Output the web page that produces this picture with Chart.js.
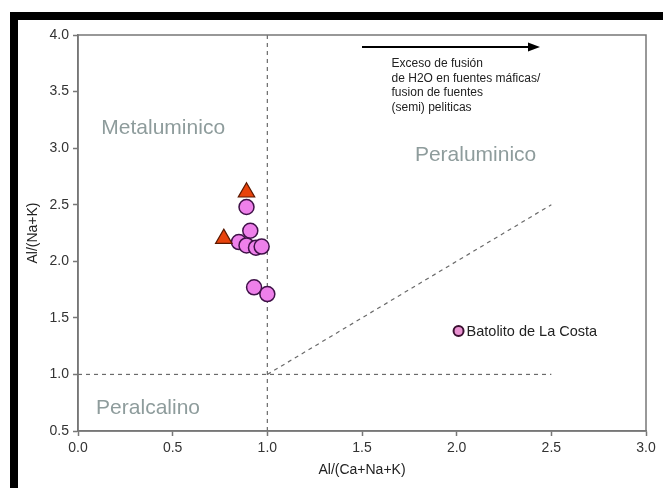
<!DOCTYPE html>
<html>
<head>
<meta charset="utf-8">
<script src="https://cdn.jsdelivr.net/npm/chart.js@4.4.0/dist/chart.umd.min.js"></script>
<style>
  html, body { margin: 0; padding: 0; background: #fff; }
  canvas { display: block; }
</style>
</head>
<body>
<canvas id="chart" width="663" height="488"></canvas>
<script>
  // ejes
  const xTickValues = [0, 0.5, 1, 1.5, 2, 2.5, 3];
  const yTickValues = [0.5, 1, 1.5, 2, 2.5, 3, 3.5, 4];

  // muestras
  const seriesName = 'Batolito de La Costa';
  const circleX = [0.89, 0.91, 0.85, 0.89, 0.94, 0.97, 0.93, 1.00];
  const circleY = [2.48, 2.27, 2.17, 2.14, 2.12, 2.13, 1.77, 1.71];
  const triangleX = [0.89, 0.77];
  const triangleY = [2.61, 2.20];

  // limites de campos
  const vLineX = [1, 1],   vLineY = [0.5, 4];
  const hLineX = [0, 2.5], hLineY = [1, 1];
  const dLineX = [1, 2.5], dLineY = [1, 2.5];

  const regionNames = ['Metaluminico', 'Peraluminico', 'Peralcalino'];
  const noteLines = ['Exceso de fusión', 'de H2O en fuentes máficas/', 'fusion de fuentes', '(semi) peliticas'];

  const pts = (xs, ys) => xs.map((x, i) => ({ x: x, y: ys[i] }));
  const FONT = "'Liberation Sans', Arial, sans-serif";

  const boundary = (xs, ys) => ({
    data: pts(xs, ys), showLine: true, borderColor: '#6a6a6a', borderWidth: 1.2,
    borderDash: [4, 4], pointRadius: 0, fill: false, order: 3
  });

  const decor = {
    id: 'decor',
    beforeDraw(chart) {
      const c = chart.ctx;
      c.save();
      c.fillStyle = '#000';
      c.fillRect(10, 12, 653, 8);   // marco negro
      c.fillRect(10, 12, 8, 476);
      c.restore();
    },
    afterDraw(chart) {
      const c = chart.ctx, a = chart.chartArea;
      const sx = chart.scales.x, sy = chart.scales.y;
      c.save();
      c.strokeStyle = '#777';
      c.lineWidth = 1.5;
      c.strokeRect(a.left, a.top, a.right - a.left, a.bottom - a.top);

      // nombres de campos
      c.fillStyle = '#8e9c9c';
      c.font = '21px ' + FONT;
      c.textAlign = 'center';
      c.textBaseline = 'middle';
      const spots = [[0.45, 3.18], [2.1, 2.94], [0.37, 0.70]];
      regionNames.forEach((t, i) => c.fillText(t, sx.getPixelForValue(spots[i][0]), sy.getPixelForValue(spots[i][1])));

      // flecha
      const ay = sy.getPixelForValue(3.895);
      const ax0 = sx.getPixelForValue(1.5), ax1 = sx.getPixelForValue(2.44);
      c.strokeStyle = '#000';
      c.fillStyle = '#000';
      c.lineWidth = 2;
      c.beginPath(); c.moveTo(ax0, ay); c.lineTo(ax1 - 8, ay); c.stroke();
      c.beginPath(); c.moveTo(ax1, ay); c.lineTo(ax1 - 12, ay - 4.5); c.lineTo(ax1 - 12, ay + 4.5); c.closePath(); c.fill();

      // nota
      c.fillStyle = '#222';
      c.font = '12px ' + FONT;
      c.textAlign = 'left';
      const nx = sx.getPixelForValue(1.656);
      const ny = sy.getPixelForValue(3.745);
      noteLines.forEach((t, i) => c.fillText(t, nx, ny + i * 14.5));

      // leyenda
      const lx = sx.getPixelForValue(2.01), ly = sy.getPixelForValue(1.384);
      c.beginPath(); c.arc(lx, ly, 5, 0, Math.PI * 2);
      c.fillStyle = '#e890d0'; c.fill();
      c.strokeStyle = '#3a1030'; c.lineWidth = 2; c.stroke();
      c.fillStyle = '#222';
      c.font = '14.5px ' + FONT;
      c.fillText(seriesName, lx + 8, ly + 1);
      c.restore();
    }
  };

  const axisCommon = (vals, titleText, titlePad) => ({
    type: 'linear',
    min: vals[0], max: vals[vals.length - 1],
    afterBuildTicks: s => { s.ticks = vals.map(v => ({ value: v })); },
    ticks: { color: '#333', font: { family: FONT, size: 14 }, padding: 4, callback: v => v.toFixed(1) },
    grid: { display: true, drawOnChartArea: false, tickLength: 5, tickColor: '#777', tickWidth: 1.5 },
    border: { color: '#777', width: 1.5 },
    title: { display: true, text: titleText, color: '#222', font: { family: FONT, size: 14 }, padding: titlePad }
  });

  const xAxis = axisCommon(xTickValues, 'Al/(Ca+Na+K)', { top: 0, bottom: 9 });
  xAxis.afterFit = s => { s.height = 57; };
  const yAxis = axisCommon(yTickValues, 'Al/(Na+K)', { top: 25, bottom: 0 });
  yAxis.afterFit = s => { s.width = 78; };

  new Chart(document.getElementById('chart'), {
    type: 'scatter',
    data: {
      datasets: [
        { label: seriesName, data: pts(triangleX, triangleY), pointStyle: 'triangle', pointRadius: 9.5,
          backgroundColor: '#e8430c', borderColor: '#5a1800', borderWidth: 1.2, order: 0 },
        { label: seriesName, data: pts(circleX, circleY), pointStyle: 'circle', pointRadius: 7.5,
          backgroundColor: '#ee80ea', borderColor: '#3f1248', borderWidth: 1.5, order: 1 },
        boundary(vLineX, vLineY),
        boundary(hLineX, hLineY),
        boundary(dLineX, dLineY)
      ]
    },
    options: {
      responsive: false,
      animation: false,
      layout: { padding: { top: 35, right: 17, left: 0, bottom: 0 } },
      plugins: { legend: { display: false }, tooltip: { enabled: false } },
      scales: { x: xAxis, y: yAxis }
    },
    plugins: [decor]
  });
</script>
</body>
</html>
